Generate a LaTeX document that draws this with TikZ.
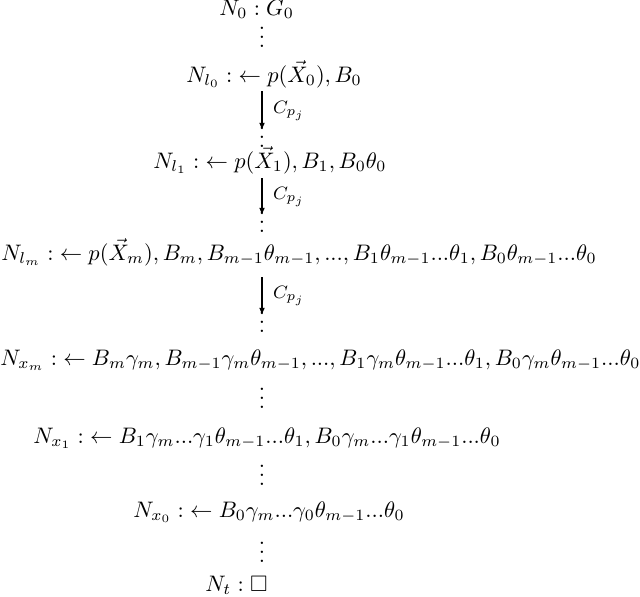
\documentclass[tikz,border=0pt]{standalone}
\usepackage{xcolor}
\usepackage{amsmath,amssymb}
\usepackage{tikz}
\usetikzlibrary{arrows.meta}

\newcommand{\xmline}{$N_{x_m} : \;\leftarrow B_m\gamma_m, B_{m-1}\gamma_m\theta_{m-1}, ..., B_1\gamma_m\theta_{m-1}...\theta_1, B_0\gamma_m\theta_{m-1}...\theta_0$}
\newlength\xmwd
\newlength\pxu

\begin{document}
\settowidth{\xmwd}{\xmline}
\setlength{\pxu}{\dimexpr\xmwd/640\relax}
\begin{tikzpicture}[x=\pxu,y=-\pxu,
  goal/.style={anchor=base west,inner sep=0pt},
  gap/.style={anchor=base,inner sep=0pt},
  cstep/.style={very thick,-{Latex[length=3.2pt,width=2.6pt]}},
  clause/.style={midway,right,xshift=1pt,font=\footnotesize}]
\useasboundingbox (0,0) rectangle (640,596);
% goals of the derivation
\node[goal] (N0) at (219,15) {$N_0 : G_0$};
\node[goal] (Nl0) at (186,82) {$N_{l_0} : \;\leftarrow p(\vec{X}_0), B_0$};
\node[goal] (Nl1) at (153,168) {$N_{l_1} : \;\leftarrow p(\vec{X}_1), B_1, B_0\theta_0$};
\node[goal] (Nlm) at (1,260) {$N_{l_m} : \;\leftarrow p(\vec{X}_m), B_m, B_{m-1}\theta_{m-1}, ..., B_1\theta_{m-1}...\theta_1, B_0\theta_{m-1}...\theta_0$};
\node[goal] (Nxm) at (0,365) {\xmline};
\node[goal] (Nx1) at (33,443) {$N_{x_1} : \;\leftarrow B_1\gamma_m...\gamma_1\theta_{m-1}...\theta_1, B_0\gamma_m...\gamma_1\theta_{m-1}...\theta_0$};
\node[goal] (Nx0) at (133,517) {$N_{x_0} : \;\leftarrow B_0\gamma_m...\gamma_0\theta_{m-1}...\theta_0$};
\node[goal] (Nt) at (205,591) {$N_t : \square$};
% dots in between
\node[gap] (v0) at (262,47) {$\vdots$};
\node[gap] (d1) at (262,147) {$\vdots$};
\node[gap] (d2) at (262,232) {$\vdots$};
\node[gap] (d3) at (262,332) {$\vdots$};
\node[gap] (v4) at (262,408) {$\vdots$};
\node[gap] (v5) at (262,485) {$\vdots$};
\node[gap] (v6) at (262,562) {$\vdots$};
% clause steps
\coordinate (a1) at (262,91);
\coordinate (a2) at (262,178);
\coordinate (a3) at (262,277);
\draw[cstep] (a1) -- (d1.center) node[clause] {$C_{p_j}$};
\draw[cstep] (a2) -- (d2.center) node[clause] {$C_{p_j}$};
\draw[cstep] (a3) -- (d3.center) node[clause] {$C_{p_j}$};
\end{tikzpicture}
\end{document}
